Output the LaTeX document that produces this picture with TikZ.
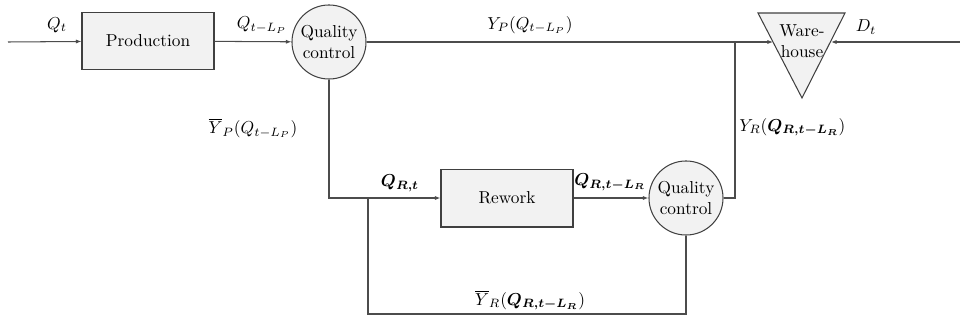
\documentclass[tikz,border=0pt]{standalone}
\usepackage{amsmath,bm}
\usetikzlibrary{arrows.meta}
\begin{document}
\begin{tikzpicture}[x=0.578pt,y=-0.578pt,
  line width=0.6pt,
  conn/.style={draw=black!70},
  blockbox/.style={draw=black!75,fill=black!5,minimum width=76.3pt,minimum height=33.5pt,inner sep=0pt},
  qcircle/.style={circle,draw=black!75,fill=black!5,minimum size=42.8pt,inner sep=0pt,align=center,font=\normalsize},
  arr/.style={conn,-{Latex[length=3.2pt,width=2.4pt]}},
  lbl/.style={inner sep=1pt}]
\useasboundingbox (0,0) rectangle (960,320);
% nodes
\node[blockbox] (prod) at (148,41) {Production};
\node[qcircle] (qc1) at (329,42) {Quality\\control};
\node[blockbox] (rew) at (507,198) {Rework};
\node[qcircle] (qc2) at (686,198) {Quality\\control};
% warehouse triangle
\coordinate (wa) at (758,13);
\coordinate (wb) at (845,13);
\coordinate (wc) at (802,98);
\draw[draw=black!75,fill=black!5] (wa) -- (wb) -- (wc) -- cycle;
\node[align=center,inner sep=0pt] (wh) at (802,41) {Ware-\\house};
\coordinate (whL) at (773,42);
\coordinate (whR) at (831,42);
% free ends and junctions
\coordinate (in) at (8,42);
\coordinate (Din) at (960,42);
\coordinate (jn) at (735,42);
\coordinate (sp) at (368,198);
\coordinate (fb) at (368,314);
% connectors
\draw[arr] (in) -- (prod);
\draw[arr] (prod) -- (qc1);
\draw[arr] (qc1) -- (whL);
\draw[arr] (Din) -- (whR);
\draw[arr] (qc1.south) |- (rew.west);
\draw[arr] (rew) -- (qc2);
\draw[conn] (qc2.east) -| (jn);
\draw[conn] (sp) -- (fb) -| (qc2.south);
% labels
\node[lbl] (l1) at (57,25) {$Q_t$};
\node[lbl] (l2) at (262,25) {$Q_{t-L_P}$};
\node[lbl] (l3) at (530,25) {$Y_P(Q_{t-L_P})$};
\node[lbl] (l4) at (866,27) {$D_t$};
\node[lbl] (l5) at (253,128) {$\overline{Y}_P(Q_{t-L_P})$};
\node[lbl,anchor=west] (l6) at (737,127) {$Y_R(\bm{Q_{R,t-L_R}})$};
\node[lbl] (l7) at (400,183) {$\bm{Q_{R,t}}$};
\node[lbl] (l8) at (610,182) {$\bm{Q_{R,t-L_R}}$};
\node[lbl] (l9) at (530,300) {$\overline{Y}_R(\bm{Q_{R,t-L_R}})$};
\end{tikzpicture}
\end{document}
